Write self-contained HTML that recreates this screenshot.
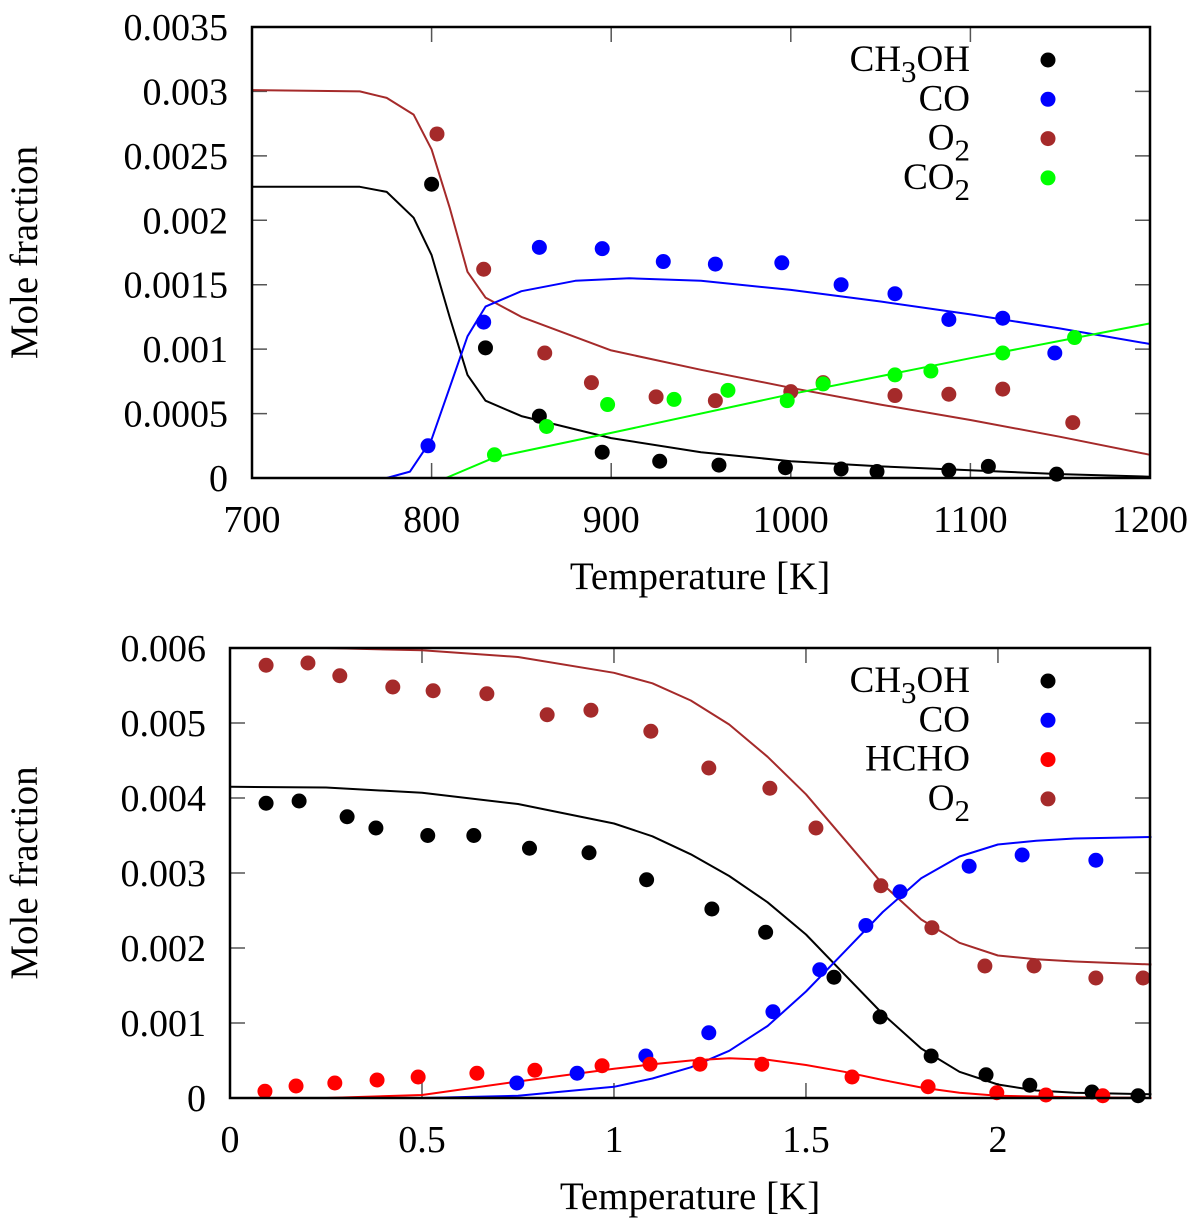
<!DOCTYPE html>
<html><head><meta charset="utf-8"><style>
body{margin:0;background:#fff;}
svg{display:block;font-family:"Liberation Serif",serif;}
</style></head><body>
<svg id="svg" width="1200" height="1222" viewBox="0 0 1200 1222"></svg>
<script>
// ---- Top chart data ----
const topLineT=[700,760,775,790,800,810,820,830,850,900,950,1000,1050,1100,1150,1200];
const topLineCH3OH=[.00226,.00226,.00222,.00202,.00173,.00125,.0008,.0006,.00048,.00031,.0002,.00013,.00009,.00006,.00003,.00001];
const topLineO2=[.00301,.003,.00295,.00282,.00255,.0021,.0016,.0014,.00125,.00099,.00084,.0007,.00057,.00045,.00032,.00018];
const topLineCOT=[700,775,788,800,810,820,830,850,880,910,950,1000,1050,1100,1150,1200];
const topLineCO=[0,0,.00005,.0003,.0007,.0011,.00133,.00145,.00153,.00155,.00153,.00146,.00137,.00127,.00116,.00104];
const topLineCO2T=[700,808,835,900,1000,1100,1200];
const topLineCO2=[0,0,.00016,.00035,.00065,.00093,.0012];
const topPtCH3OHT=[800,830,860,895,927,960,997,1028,1048,1088,1110,1148];
const topPtCH3OH=[.00228,.00101,.00048,.0002,.00013,.0001,.00008,.00007,.00005,.00006,.00009,.00003];
const topPtCOT=[798,829,860,895,929,958,995,1028,1058,1088,1118,1147];
const topPtCO=[.00025,.00121,.00179,.00178,.00168,.00166,.00167,.0015,.00143,.00123,.00124,.00097];
const topPtO2T=[803,829,863,889,925,958,1000,1018,1058,1088,1118,1157];
const topPtO2=[.00267,.00162,.00097,.00074,.00063,.0006,.00067,.00074,.00064,.00065,.00069,.00043];
const topPtCO2T=[835,864,898,935,965,998,1018,1058,1078,1118,1158];
const topPtCO2=[.00018,.0004,.00057,.00061,.00068,.0006,.00073,.0008,.00083,.00097,.00109];
const topXTicks=[700,800,900,1000,1100,1200];
const topYTicks=[0,0.0005,0.001,0.0015,0.002,0.0025,0.003,0.0035];
const topYLabels=["0","0.0005","0.001","0.0015","0.002","0.0025","0.003","0.0035"];
// ---- Bottom chart data ----
const botLineX=[0,.25,.5,.75,1,1.1,1.2,1.3,1.4,1.5,1.6,1.7,1.8,1.9,2.0,2.1,2.2,2.4];
const botLineCH3OH=[.00415,.00414,.00407,.00392,.00366,.00349,.00325,.00296,.00261,.00218,.00165,.00112,.00066,.00035,.00018,.0001,.00007,.00005];
const botLineO2=[.006,.006,.00597,.00588,.00567,.00553,.0053,.00498,.00455,.00405,.00345,.00285,.00238,.00207,.0019,.00185,.00182,.00178];
const botLineCO=[0,0,0,.00003,.00015,.00026,.00041,.00063,.00096,.00142,.00195,.00248,.00293,.00322,.00338,.00343,.00346,.00348];
const botLineHCHO=[0,0,.00004,.00022,.00039,.00045,.0005,.00053,.00051,.00044,.00035,.00024,.00014,.00007,.00003,.00002,.00001,0];
const botPtCH3OHX=[.094,.18,.305,.38,.515,.635,.78,.935,1.085,1.255,1.395,1.573,1.693,1.826,1.969,2.083,2.245,2.365];
const botPtCH3OH=[.00393,.00396,.00375,.0036,.0035,.0035,.00333,.00327,.00291,.00252,.00221,.00161,.00108,.00056,.00031,.00017,.00008,.00003];
const botPtCOX=[.747,.904,1.083,1.247,1.414,1.536,1.656,1.745,1.925,2.063,2.255];
const botPtCO=[.0002,.00033,.00056,.00087,.00115,.00171,.0023,.00275,.00309,.00324,.00317];
const botPtHCHOX=[.091,.172,.273,.383,.49,.643,.794,.969,1.094,1.224,1.385,1.62,1.818,1.997,2.125,2.273];
const botPtHCHO=[.00009,.00016,.0002,.00024,.00028,.00033,.00037,.00043,.00045,.00045,.00045,.00028,.00015,.00007,.00004,.00003];
const botPtO2X=[.094,.203,.286,.424,.529,.669,.826,.94,1.096,1.247,1.406,1.526,1.695,1.828,1.966,2.094,2.255,2.378];
const botPtO2=[.00577,.0058,.00563,.00548,.00543,.00539,.00511,.00517,.00489,.0044,.00413,.0036,.00283,.00227,.00176,.00176,.0016,.0016];
const botXTicks=[0,0.5,1,1.5,2];
const botXLabels=["0","0.5","1","1.5","2"];
const botYTicks=[0,0.001,0.002,0.003,0.004,0.005,0.006];
const botYLabels=["0","0.001","0.002","0.003","0.004","0.005","0.006"];

const NS="http://www.w3.org/2000/svg";
const svg=document.getElementById('svg');
function mk(tag,attrs,parent){const e=document.createElementNS(NS,tag);for(const k in attrs)e.setAttribute(k,attrs[k]);(parent||svg).appendChild(e);return e;}
const BROWN="#a52a2a",BLUE="#0000ff",GREEN="#00ff00",RED="#ff0000",BLACK="#000";

function chart(cfg){
  const g=mk('g',{});
  
  
  const sx=v=>cfg.x0+(v-cfg.xmin)/(cfg.xmax-cfg.xmin)*(cfg.x1-cfg.x0);
  const sy=v=>cfg.y1-(v-cfg.ymin)/(cfg.ymax-cfg.ymin)*(cfg.y1-cfg.y0);
  cfg.yt.forEach((v,i)=>{
    const y=sy(v);
    const t=mk('path',{d:`M${cfg.x0},${y}h15M${cfg.x1},${y}h-15`,stroke:'#555','stroke-width':1.5},g);
    
    
    const l=mk('text',{x:cfg.x0-24,y:y+13,'text-anchor':'end','font-size':38},g);
    l.textContent=cfg.yl[i];
    
    
  });
  cfg.xt.forEach((v,i)=>{
    const x=sx(v);
    const t=mk('path',{d:`M${x},${cfg.y1}v-15M${x},${cfg.y0}v15`,stroke:'#555','stroke-width':1.5},g);
    
    
    const l=mk('text',{x:x,y:cfg.y1+54,'text-anchor':'middle','font-size':38},g);
    l.textContent=cfg.xl[i];
    
    
  });
  cfg.lines.forEach(L=>{
    const d=L.x.map((v,i)=>(i?'L':'M')+sx(v).toFixed(1)+','+sy(L.y[i]).toFixed(1)).join('');
    const p=mk('path',{d:d,fill:'none',stroke:L.c,'stroke-width':2,'stroke-linejoin':'round'},g);
    
    
  });
  cfg.pts.forEach(P=>{
    P.x.forEach((v,i)=>{
      const c=mk('circle',{cx:sx(v),cy:sy(P.y[i]),r:7.5,fill:P.c},g);
      
      
    });
  });
  const fr=mk('rect',{x:cfg.x0,y:cfg.y0,width:cfg.x1-cfg.x0,height:cfg.y1-cfg.y0,fill:'none',stroke:'#000','stroke-width':2.5},g);
  
  
  cfg.legend.forEach((L,i)=>{
    const y=cfg.ly+i*cfg.lstep;
    const t=mk('text',{x:970,y:y+11,'text-anchor':'end','font-size':37},g);
    t.innerHTML=L.t;
    
    
    const c=mk('circle',{cx:1048,cy:y,r:7.5,fill:L.c},g);
    
    
  });
  const xt=mk('text',{x:cfg.xtx,y:cfg.y1+111,'text-anchor':'middle','font-size':39},g);
  xt.textContent='Temperature [K]';
  
  
  const cy=(cfg.y0+cfg.y1)/2;
  const yt=mk('text',{x:37,y:cy,'text-anchor':'middle','font-size':39,transform:`rotate(-90 37 ${cy})`},g);
  yt.textContent='Mole fraction';
  
  
}
const sub=s=>`<tspan dy="11" font-size="31">${s}</tspan><tspan dy="-11">`;
chart({name:'top-chart',x0:252,x1:1150,y0:27,y1:478,xmin:700,xmax:1200,ymin:0,ymax:0.0035,xtx:700,
  xt:topXTicks,xl:topXTicks.map(String),yt:topYTicks,yl:topYLabels,
  lines:[{x:topLineT,y:topLineO2,c:BROWN,n:'o2-model-line'},{x:topLineT,y:topLineCH3OH,c:BLACK,n:'ch3oh-model-line'},
         {x:topLineCOT,y:topLineCO,c:BLUE,n:'co-model-line'},{x:topLineCO2T,y:topLineCO2,c:GREEN,n:'co2-model-line'}],
  pts:[{x:topPtCH3OHT,y:topPtCH3OH,c:BLACK,n:'ch3oh-point'},{x:topPtCOT,y:topPtCO,c:BLUE,n:'co-point'},
       {x:topPtO2T,y:topPtO2,c:BROWN,n:'o2-point'},{x:topPtCO2T,y:topPtCO2,c:GREEN,n:'co2-point'}],
  legend:[{t:'CH'+sub('3')+'OH</tspan>',c:BLACK},{t:'CO',c:BLUE},{t:'O'+sub('2')+'</tspan>',c:BROWN},{t:'CO'+sub('2')+'</tspan>',c:GREEN}],
  ly:60,lstep:39.3});
chart({name:'bottom-chart',x0:230,x1:1150,y0:648,y1:1098,xmin:0,xmax:2.396,ymin:0,ymax:0.006,xtx:690,
  xt:botXTicks,xl:botXLabels,yt:botYTicks,yl:botYLabels,
  lines:[{x:botLineX,y:botLineO2,c:BROWN,n:'o2-model-line'},{x:botLineX,y:botLineCH3OH,c:BLACK,n:'ch3oh-model-line'},
         {x:botLineX,y:botLineCO,c:BLUE,n:'co-model-line'},{x:botLineX,y:botLineHCHO,c:RED,n:'hcho-model-line'}],
  pts:[{x:botPtCH3OHX,y:botPtCH3OH,c:BLACK,n:'ch3oh-point'},{x:botPtCOX,y:botPtCO,c:BLUE,n:'co-point'},
       {x:botPtHCHOX,y:botPtHCHO,c:RED,n:'hcho-point'},{x:botPtO2X,y:botPtO2,c:BROWN,n:'o2-point'}],
  legend:[{t:'CH'+sub('3')+'OH</tspan>',c:BLACK},{t:'CO',c:BLUE},{t:'HCHO',c:RED},{t:'O'+sub('2')+'</tspan>',c:BROWN}],
  ly:681,lstep:39.3});
</script>
</body></html>
